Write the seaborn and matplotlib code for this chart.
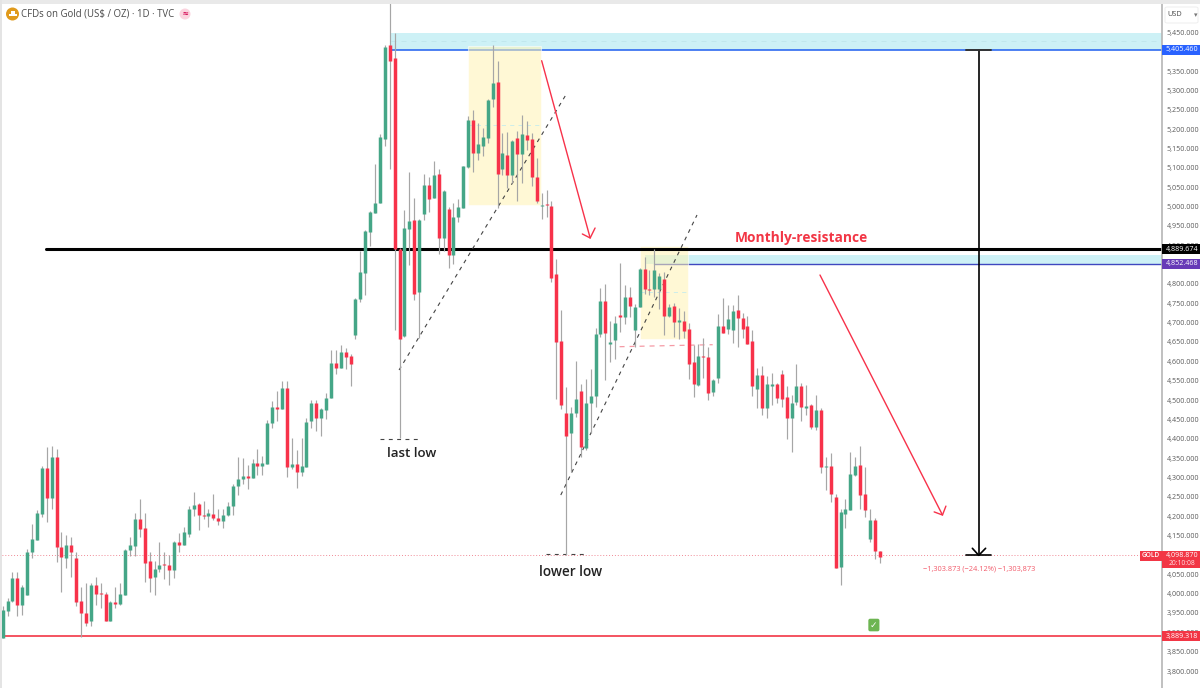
import numpy as np
import pandas as pd
import seaborn as sns
import matplotlib.pyplot as plt
from matplotlib.patches import Rectangle, Ellipse, FancyBboxPatch

# daily candles
opens = [3885,3956,3981,4039,3971,3996,4108,4139,4206,4325,
         4247,4354,4121,4092,4125,4093,3982,3951,3928,4022,
         4001,4000,3928,3979,3973,3996,4112,4123,4193,4169,
         4083,4042,4063,4077,4074,4061,4133,4126,4154,4219,
         4231,4204,4200,4206,4196,4187,4203,4225,4277,4296,
         4304,4299,4337,4330,4335,4441,4481,4476,4530,4327,
         4335,4315,4328,4446,4493,4453,4475,4505,4595,4583,
         4624,4614,4667,4760,4827,4933,4984,5008,5175,5417,
         5383,4889,4666,4943,4964,4780,4981,5056,5023,5083,
         4919,4993,4874,4973,4997,5103,5224,5139,5156,5177,
         5278,5321,5097,5133,5082,5178,5136,5184,5174,5077,
         5001,5005,5002,4826,4653,4466,4414,4466,4523,4375,
         4493,4511,4671,4756,4646,4655,4719,4715,4767,4681,
         4741,4838,4788,4787,4788,4812,4717,4743,4701,4705,
         4683,4598,4539,4615,4611,4522,4557,4691,4684,4681,
         4733,4711,4690,4652,4528,4565,4480,4536,4541,4566,
         4508,4453,4495,4535,4480,4486,4431,4474,4326,4330,
         4250,4068,4206,4216,4306,4331,4256,4141,4190,4110]
closes = [3958,3982,4039,3971,4016,4108,4141,4208,4325,4247,
          4354,4120,4094,4125,4108,3979,3949,3925,4022,4000,
          3999,3928,3978,3973,3998,4113,4125,4193,4167,4080,
          4040,4064,4074,4074,4061,4133,4126,4160,4218,4229,
          4202,4200,4207,4194,4187,4204,4226,4278,4296,4304,
          4299,4337,4330,4337,4441,4483,4476,4530,4328,4335,
          4315,4330,4444,4493,4453,4476,4506,4595,4583,4624,
          4612,4592,4761,4830,4937,4986,5008,5179,5413,5376,
          4889,4657,4944,4962,4773,4965,5056,5019,5081,4918,
          5040,4875,4973,4998,5105,5224,5138,5162,5179,5276,
          5320,5085,5138,5081,5170,5136,5187,5172,5075,5014,
          5005,5003,4816,4651,4487,4406,4467,4503,4378,4492,
          4511,4670,4756,4674,4647,4699,4715,4767,4743,4741,
          4839,4786,4784,4836,4821,4716,4741,4702,4706,4678,
          4593,4541,4614,4610,4519,4553,4690,4674,4710,4730,
          4711,4684,4646,4536,4565,4480,4541,4541,4505,4503,
          4453,4493,4536,4481,4485,4430,4474,4328,4330,4257,
          4067,4211,4218,4309,4330,4255,4216,4190,4110,4095]
highs = [3969,3988,4057,4057,4021,4115,4179,4216,4330,4378,
         4380,4374,4158,4151,4147,4107,4018,4028,4028,4044,
         4028,4005,3981,4018,4027,4114,4147,4209,4244,4209,
         4108,4083,4132,4108,4100,4137,4157,4173,4226,4263,
         4233,4240,4218,4258,4218,4219,4236,4283,4352,4349,
         4332,4347,4374,4356,4449,4498,4523,4549,4549,4402,
         4371,4401,4453,4500,4500,4479,4518,4628,4629,4641,
         4634,4619,4763,4885,4939,4989,5109,5187,5417,5526,
         5447,4892,4991,5088,5021,4968,5084,5075,5117,5097,
         5043,4998,5008,5019,5105,5235,5249,5215,5202,5278,
         5417,5377,5191,5193,5172,5195,5236,5221,5189,5126,
         5035,5043,5013,4865,4733,4533,4483,4601,4542,4554,
         4579,4685,4790,4799,4704,4717,4855,4797,4793,4747,
         4840,4869,4836,4889,4827,4830,4748,4750,4739,4730,
         4700,4642,4644,4660,4636,4554,4721,4763,4746,4746,
         4771,4724,4717,4681,4582,4588,4563,4569,4543,4578,
         4536,4514,4593,4543,4539,4490,4512,4479,4352,4362,
         4256,4218,4244,4366,4354,4380,4328,4218,4194,4111]
lows = [3885,3941,3979,3942,3945,3996,4091,4139,4199,4186,
        4218,4082,4003,4065,4042,3969,3889,3915,3915,3971,
        3962,3928,3928,3964,3971,3996,4097,4097,4145,4031,
        4005,3996,4055,4038,4021,4039,4108,4126,4147,4201,
        4163,4193,4173,4190,4176,4169,4201,4203,4255,4283,
        4269,4298,4306,4306,4335,4429,4446,4476,4300,4322,
        4274,4305,4328,4427,4421,4406,4451,4505,4567,4582,
        4580,4535,4658,4754,4772,4898,4984,5008,5155,5096,
        4681,4401,4664,4849,4759,4660,4964,4985,5021,4877,
        4886,4840,4852,4959,4997,5099,5090,5119,5131,5165,
        5258,4995,5081,5049,5060,5013,5060,5146,5053,5008,
        4967,4972,4806,4502,4476,4100,4315,4457,4354,4371,
        4416,4481,4664,4552,4599,4605,4677,4697,4715,4638,
        4740,4774,4771,4767,4736,4668,4714,4662,4657,4660,
        4554,4509,4537,4558,4499,4511,4543,4672,4671,4647,
        4636,4660,4644,4511,4479,4461,4453,4487,4492,4481,
        4399,4366,4487,4447,4461,4424,4423,4311,4268,4236,
        4067,4022,4169,4216,4304,4218,4199,4134,4089,4080]

price_ticks = [3800,3850,3900,3950,4000,4050,4100,4150,4200,4250,4300,4350,
               4400,4450,4500,4550,4600,4650,4700,4750,4800,4850,4900,4950,
               5000,5050,5100,5150,5200,5250,5300,5350,5400,5450]

# levels drawn on the chart
blue_level = 5405.460
black_level = 4889.674
purple_level = 4852.468
red_level = 3889.318
last_price = 4098.870

GREEN = '#45a687'
RED = '#f7324a'
WICK = '#a6a6a6'
AXIS_TEXT = '#5a5a5a'
TICK_SIZE = 5.1

sns.set_theme(style='white')
plt.rcParams['font.family'] = ['Open Sans', 'DejaVu Sans']

df = pd.DataFrame({'day': np.arange(1, len(opens) + 1), 'open': opens, 'high': highs,
                   'low': lows, 'close': closes})
df['direction'] = np.where(df['close'] >= df['open'], 'up', 'down')
df['body_low'] = df[['open', 'close']].min(axis=1)
# keep dojis visible: very small bodies still take a pixel or so
df['body_high'] = np.maximum(df[['open', 'close']].max(axis=1), df['body_low'] + 3)

wicks = df.melt(id_vars='day', value_vars=['low', 'high'], value_name='price')
bodies = df.melt(id_vars=['day', 'direction'], value_vars=['body_low', 'body_high'], value_name='price')

fig = plt.figure(figsize=(12, 6.88), dpi=100)
ax = fig.add_axes([0, 0, 1162 / 1200, 684 / 688])

# drawings go under the candles
XEND = 237.6
ax.add_patch(Rectangle((80.25, blue_level), XEND - 80.25, 5449 - blue_level, color='#cdf1f6', lw=0, zorder=1))
ax.plot([80.25, XEND], [5427, 5427], color='#bfe6ec', lw=0.6, ls=(0, (6, 6)), zorder=1.1)
ax.plot([80.25, XEND], [blue_level] * 2, color='#2f6bf0', lw=1.2, zorder=1.2)
ax.add_patch(Rectangle((95.96, 5005), 14.97, 410, fc='#fff3b3', ec='white', alpha=0.55, lw=0.8, zorder=1.3))
ax.plot([95.96, 110.93], [5209.6, 5209.6], color='#c5ecec', lw=0.6, ls=(0, (5, 5)), zorder=1.4)

ax.add_patch(Rectangle((132.1, purple_level), XEND - 132.1, 4875 - purple_level, color='#cdf1f6', lw=0, zorder=1))
ax.plot([133.9, XEND], [purple_level] * 2, color='#3f48c0', lw=1.0, zorder=1.2)
ax.add_patch(Rectangle((131.1, 4657), 9.8, 241, fc='#fff3b3', ec='white', alpha=0.55, lw=0.8, zorder=1.3))
ax.plot([131.1, 140.9], [4779, 4779], color='#c5ecec', lw=0.6, ls=(0, (5, 5)), zorder=1.4)

ax.plot([9.84, XEND], [black_level] * 2, color='black', lw=2.2, zorder=1.5)
ax.plot([0, XEND], [red_level] * 2, color='#f23645', lw=1.2, zorder=1.5)
ax.plot([0, XEND], [last_price] * 2, color='#f08a96', lw=0.7, ls=(0, (1, 2)), zorder=1.5)

for xs, ys in [([81.9, 115.8], [4577.6, 5285.4]), ([114.9, 142.7], [4254.6, 4978]),
               ([78, 85.7], [4399.3, 4399.3]), ([111.9, 119.6], [4101.5, 4101.5])]:
    ax.plot(xs, ys, color='#444444', lw=0.8, ls=(0, (3.5, 4)), zorder=1.6)
ax.plot([126.9, 145.9], [4637.8, 4643], color='#f59aa5', lw=0.9, ls=(0, (4, 4)), zorder=1.6)

sns.lineplot(data=wicks, x='day', y='price', units='day', estimator=None, color=WICK,
             lw=0.85, ax=ax, zorder=3, solid_capstyle='butt')
sns.lineplot(data=bodies, x='day', y='price', units='day', estimator=None, hue='direction',
             palette={'up': GREEN, 'down': RED}, lw=2.5, ax=ax, zorder=4, solid_capstyle='butt', legend=False)

# arrows and the measure tool sit on top
ax.plot([111.0, 120.9], [5376.6, 4918.6], color=RED, lw=1.0, zorder=5)
ax.plot([119.3, 120.9, 121.9], [4929, 4918.6, 4944.4], color=RED, lw=1.0, zorder=5)
ax.plot([167.8, 192.8], [4823, 4203], color=RED, lw=1.0, zorder=5)
ax.plot([191.1, 192.8, 193.5], [4211, 4203, 4226], color=RED, lw=1.0, zorder=5)
ax.plot([200.2, 200.2], [blue_level, last_price], color='black', lw=1.2, zorder=5)
ax.plot([197.7, 202.8], [blue_level] * 2, color='#333333', lw=1.4, zorder=5)
ax.plot([197.7, 202.8], [last_price] * 2, color='black', lw=1.2, zorder=5)
ax.plot([198.9, 200.2, 201.6], [4117, last_price, 4117], color='black', lw=1.2, zorder=5)

ax.text(164, 4918.6, 'Monthly-resistance', color='#f23645', fontsize=9.95, fontweight='bold', ha='center', va='center')
ax.text(84.5, 4363, 'last low', color='#222222', fontsize=9.6, fontweight='semibold', ha='center', va='center')
ax.text(116.9, 4055.7, 'lower low', color='#222222', fontsize=9.8, fontweight='semibold', ha='center', va='center')
ax.text(200.3, 4063.5, '\u22121,303.873 (\u221224.12%) \u22121,303,873', color='#f25a6a', fontsize=5.3,
        ha='center', va='center')
ax.text(178.8, 3918.8, '\u2713', color='white', fontsize=6.5, fontweight='bold', family='DejaVu Sans', ha='center',
        va='center', bbox=dict(boxstyle='round,pad=0.2', fc='#6db552', ec='none'), zorder=6)

ax.set_xlim(0.455, XEND)
ax.set_ylim(3756.1, 5523.1)
ax.set_xticks([])
ax.set_xlabel('')
ax.set_ylabel('')
ax.yaxis.tick_right()
ax.set_yticks(price_ticks)
ax.set_yticklabels([f'{p:,.3f}' for p in price_ticks])
ax.tick_params(axis='y', length=0, pad=3.4, labelsize=TICK_SIZE, labelcolor=AXIS_TEXT)
sns.despine(ax=ax, left=True, top=True, bottom=True, right=False)
ax.spines['right'].set_color('#b5b5b5')
ax.spines['right'].set_linewidth(1.2)

# price tags on the scale
trans = ax.get_yaxis_transform()
for price, label, col in [(blue_level, '5,405.460', '#2962ff'), (black_level, '4,889.674', '#000000'),
                          (purple_level, '4,852.468', '#673ab7'), (red_level, '3,889.318', '#f23645')]:
    ax.add_patch(Rectangle((1.0, price - 13), 38 / 1162, 26, fc=col, ec='none', transform=trans, clip_on=False, zorder=7))
    ax.text(1.0 + 20 / 1162, price, label, color='white', fontsize=TICK_SIZE, ha='center', va='center', transform=trans,
            clip_on=False, zorder=8)
ax.add_patch(Rectangle((1.0, last_price - 33.5), 38 / 1162, 45, fc='#f23645', ec='none', transform=trans, clip_on=False, zorder=7))
ax.text(1.0 + 20 / 1162, last_price, '4,098.870', color='white', fontsize=TICK_SIZE, ha='center', va='center',
        transform=trans, clip_on=False, zorder=8)
ax.text(1.0 + 20 / 1162, last_price - 21, '20:10:08', color='#ffe1e4', fontsize=4.9, ha='center', va='center',
        transform=trans, clip_on=False, zorder=8)
ax.add_patch(Rectangle((1140 / 1162, last_price - 14), 21.5 / 1162, 26, fc='#f23645', ec='none', transform=trans, zorder=7))
ax.text(1150.8 / 1162, last_price, 'GOLD', color='white', fontsize=4.7, fontweight='semibold', ha='center', va='center',
        transform=trans, zorder=8)

# chart frame and header
fig.add_artist(Rectangle((0, 1 - 3.5 / 688), 1, 3.5 / 688, fc='#e9e9e9', ec='none'))
fig.add_artist(Rectangle((0, 0), 1.5 / 1200, 1, fc='#e4e4e4', ec='none'))
fig.add_artist(Ellipse((12.5 / 1200, 1 - 14 / 688), 13 / 1200, 13 / 688, fc='#e09a1c', ec='none'))
fig.add_artist(Rectangle((8.5 / 1200, 1 - 16 / 688), 8 / 1200, 1.6 / 688, fc='white', ec='none'))
fig.add_artist(Rectangle((10.5 / 1200, 1 - 13.5 / 688), 4 / 1200, 2 / 688, fc='white', ec='none'))
fig.text(21 / 1200, 1 - 14 / 688, 'CFDs on Gold (US$ / OZ) \u00b7 1D \u00b7 TVC', color='#4a4a4a', fontsize=6.95,
         ha='left', va='center')
fig.add_artist(Ellipse((185 / 1200, 1 - 14 / 688), 11 / 1200, 11 / 688, fc='#fbd3de', ec='none'))
fig.text(185 / 1200, 1 - 14 / 688, '\u2248', color='#d81b60', fontsize=7, fontweight='bold', ha='center', va='center')
fig.add_artist(FancyBboxPatch((1165 / 1200, 1 - 23 / 688), 33 / 1200, 16 / 688, boxstyle='round,pad=0,rounding_size=0.002',
                              fc='white', ec='#eeeeee', lw=0.7, transform=fig.transFigure))
fig.text(1167 / 1200, 1 - 14.5 / 688, 'USD', color='#4a4a4a', fontsize=5.3, ha='left', va='center')
fig.text(1195.5 / 1200, 1 - 15 / 688, '\u25be', color='#777777', fontsize=5, family='DejaVu Sans', ha='center', va='center')

fig.savefig('out.png', dpi=100)
